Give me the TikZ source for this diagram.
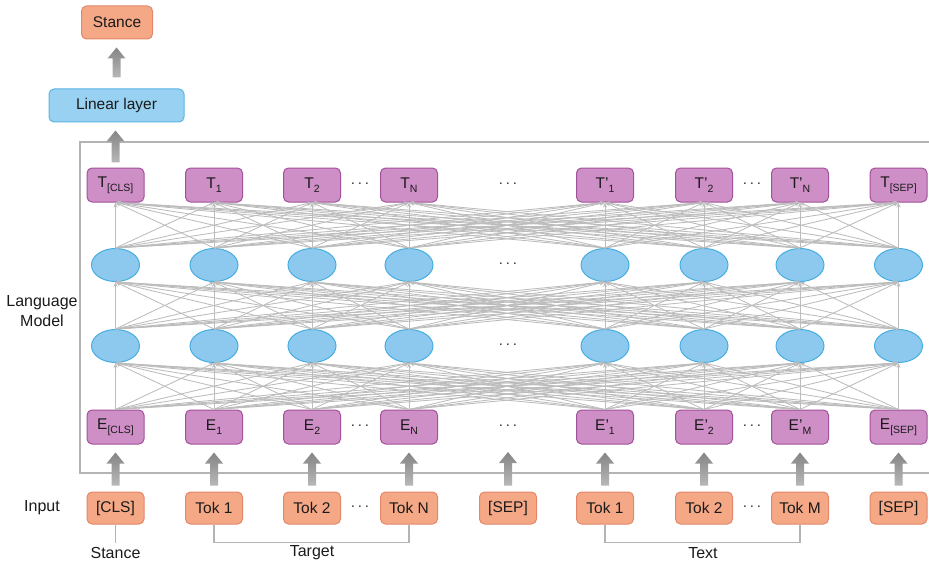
\documentclass[tikz,border=0pt]{standalone}
\usepackage{fontspec}
\setmainfont{Liberation Sans}
\usetikzlibrary{arrows.meta,calc,shapes.geometric}
\definecolor{orfill}{HTML}{F5A886}
\definecolor{ordraw}{HTML}{E3876A}
\definecolor{pufill}{HTML}{CE8EC6}
\definecolor{pudraw}{HTML}{A2529B}
\definecolor{blfill}{HTML}{8DC9EE}
\definecolor{bldraw}{HTML}{45AEE0}
\definecolor{lifill}{HTML}{98D1F1}
\definecolor{lidraw}{HTML}{5CB4E2}
\definecolor{arrtop}{HTML}{858585}
\definecolor{arrbot}{HTML}{B8B8B8}
\definecolor{connc}{HTML}{BCBCBC}
\definecolor{framec}{HTML}{B4B4B4}
\definecolor{txt}{HTML}{1A1A1A}
\newcommand{\lowsub}[1]{\raisebox{-0.45ex}{\fontsize{10.5}{10.5}\selectfont #1}}
\newcommand{\fatarrow}[3]{%
  \shade[top color=arrtop,bottom color=arrbot] let \p1=(#1.north), \p2=(#2.south) in
    (\x1-4pt,\y1+#3) -- (\x1-4pt,\y2-19pt) -- (\x1-9pt,\y2-19pt) -- (\x1,\y2-8pt)
    -- (\x1+9pt,\y2-19pt) -- (\x1+4pt,\y2-19pt) -- (\x1+4pt,\y1+#3) -- cycle;}
\begin{document}
\begin{tikzpicture}[x=1pt,y=1pt,
  every node/.style={text=txt,font=\fontsize{15.5}{17}\selectfont},
  obox/.style={draw=ordraw,fill=orfill,line width=1pt,rounded corners=5pt,minimum width=57pt,minimum height=32pt,inner sep=0pt},
  pbox/.style={draw=pudraw,fill=pufill,line width=1pt,rounded corners=5pt,minimum width=57pt,minimum height=34pt,inner sep=0pt},
  ell/.style={ellipse,draw=bldraw,fill=blfill,line width=1pt,minimum width=48pt,minimum height=33pt,inner sep=0pt},
  lbox/.style={draw=lidraw,fill=lifill,line width=1pt,rounded corners=5pt,minimum width=135pt,minimum height=33pt,inner sep=0pt},
  conn/.style={draw=connc,line width=0.85pt,-{Stealth[length=5pt,width=4pt]}},
  bracket/.style={draw=framec,line width=1.2pt},
  dots/.style={font=\fontsize{14}{14}\selectfont},
  lab/.style={font=\fontsize{16}{20}\selectfont}
]
\useasboundingbox (0,0) rectangle (929,-567);
% frame
\draw[framec,line width=1.3pt] (929,-142) -- (80,-142) -- (80,-473) -- (929,-473);
% top part
\node[obox,minimum width=71pt,minimum height=33pt] (stance) at (117,-22.5) {Stance};
\node[lbox] (lin) at (116.5,-105.5) {Linear layer};
% T row
\node[pbox] (T1) at (115.5,-185) {T\lowsub{[CLS]}};
\node[pbox] (T2) at (214,-185) {T\lowsub{1}};
\node[pbox] (T3) at (312,-185) {T\lowsub{2}};
\node[pbox] (T4) at (409,-185) {T\lowsub{N}};
\node[pbox] (T5) at (605,-185) {T’\lowsub{1}};
\node[pbox] (T6) at (704,-185) {T’\lowsub{2}};
\node[pbox] (T7) at (800,-185) {T’\lowsub{N}};
\node[pbox] (T8) at (898.5,-185) {T\lowsub{[SEP]}};
% E row
\node[pbox] (E1) at (115.5,-427) {E\lowsub{[CLS]}};
\node[pbox] (E2) at (214,-427) {E\lowsub{1}};
\node[pbox] (E3) at (312,-427) {E\lowsub{2}};
\node[pbox] (E4) at (409,-427) {E\lowsub{N}};
\node[pbox] (E5) at (605,-427) {E’\lowsub{1}};
\node[pbox] (E6) at (704,-427) {E’\lowsub{2}};
\node[pbox] (E7) at (800,-427) {E’\lowsub{M}};
\node[pbox] (E8) at (898.5,-427) {E\lowsub{[SEP]}};
\coordinate (Emid) at (508,-444);
% hidden layers
\foreach \i/\x in {1/115.5,2/214,3/312,4/409,5/605,6/704,7/800,8/898.5}{
  \node[ell] (A\i) at (\x,-346) {};
  \node[ell] (B\i) at (\x,-265) {};
}
% connections
\foreach \i in {1,...,8}{
  \foreach \j in {1,...,8}{
    \draw[conn] (E\i.north) -- (A\j.south);
    \draw[conn] (A\i.north) -- (B\j.south);
    \draw[conn] (B\i.north) -- (T\j.south);
  }
}
% input row
\node[obox] (I1) at (115.5,-508) {[CLS]};
\node[obox] (I2) at (214,-508) {Tok 1};
\node[obox] (I3) at (312,-508) {Tok 2};
\node[obox] (I4) at (409,-508) {Tok N};
\node[obox] (Imid) at (508,-508) {[SEP]};
\node[obox] (I5) at (605,-508) {Tok 1};
\node[obox] (I6) at (704,-508) {Tok 2};
\node[obox] (I7) at (800,-508) {Tok M};
\node[obox] (I8) at (898.5,-508) {[SEP]};
% fat arrows
\foreach \i in {1,...,8}{ \fatarrow{I\i}{E\i}{6pt} }
\fatarrow{Imid}{Emid}{6pt}
\fatarrow{T1}{lin}{5pt}
\fatarrow{lin}{stance}{11pt}
% dots
\foreach \p in {(360,-185),(752,-185),(360,-427),(752,-427),(360,-508),(752,-508),
                (508,-185),(508,-265),(508,-346),(508,-427)}{
  \node[dots] at \p {·\,·\,·};
}
% side labels
\node[lab,align=center] (lm) at (42,-311) {Language\\Model};
\node[lab] (inp) at (42,-508) {Input};
% brackets
\coordinate (cb) at ($(I1.south)+(0,-18)$);
\draw[bracket] (I1.south) -- (cb);
\node[lab,anchor=north] (lstance) at ($(cb)+(0,-1)$) {Stance};
\draw[bracket] (I2.south) -- ++(0,-18) -| (I4.south);
\node[lab] (ltarget) at (312,-553) {Target};
\draw[bracket] (I5.south) -- ++(0,-18) -| (I7.south);
\node[lab] (ltext) at (703,-553) {Text};
\end{tikzpicture}
\end{document}
